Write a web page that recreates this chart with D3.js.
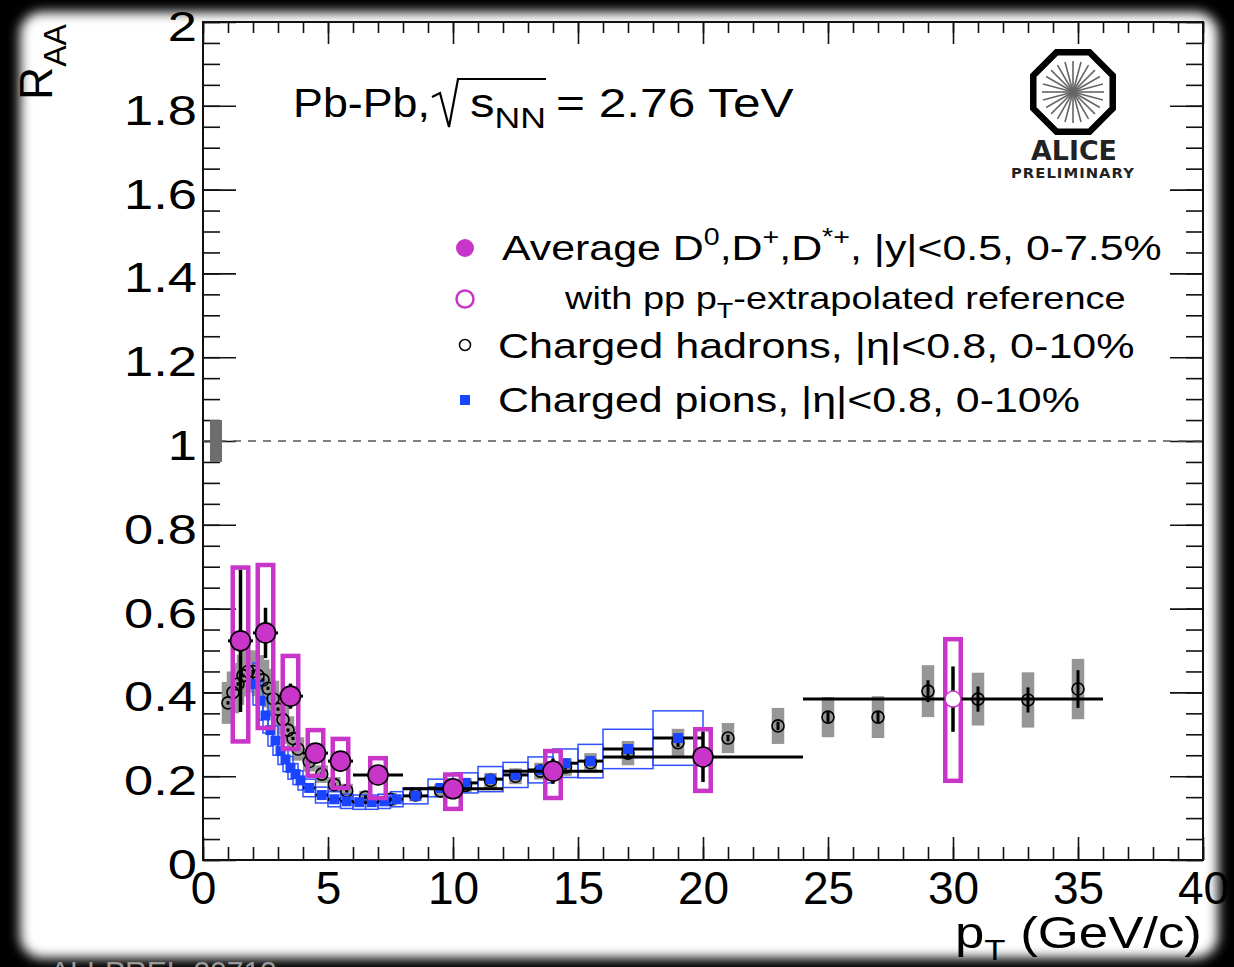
<!DOCTYPE html>
<html>
<head>
<meta charset="utf-8">
<script src="https://cdn.jsdelivr.net/npm/d3@7"></script>
<style>
  html, body { margin: 0; padding: 0; background: #000; }
  svg { display: block; font-family: "Liberation Sans", Arial, Helvetica, sans-serif; }
</style>
</head>
<body>
<svg id="chart" width="1234" height="967"></svg>
<script>
// D mesons (average D0, D+, D*+), bins in pT
var dX = [1.5, 2.5, 3.5, 4.5, 5.5, 7, 10, 14, 20];
var dLo = [1, 2, 3, 4, 5, 6, 8, 12, 16];
var dHi = [2, 3, 4, 5, 6, 8, 12, 16, 24];
var dY = [0.523, 0.542, 0.391, 0.255, 0.236, 0.203, 0.17, 0.212, 0.246];
var dStat = [0.17, 0.06, 0.03, 0.02, 0.02, 0.015, 0.015, 0.03, 0.06];
var dSysUp = [0.175, 0.162, 0.096, 0.055, 0.053, 0.04, 0.034, 0.048, 0.066];
var dSysDn = [0.24, 0.227, 0.126, 0.054, 0.064, 0.055, 0.048, 0.064, 0.081];

// D mesons with pT-extrapolated pp reference
var eX = [30];
var eLo = [24];
var eHi = [36];
var eY = [0.384];
var eStat = [0.078];
var eSysUp = [0.143];
var eSysDn = [0.195];

// charged hadrons
var hX = [1.0, 1.2, 1.4, 1.6, 1.8, 2.0, 2.2, 2.4, 2.6, 2.8, 3.0, 3.2, 3.4, 3.6, 3.8, 4.25, 4.75, 5.25, 5.75, 6.5, 7.5,
          8.5, 9.5, 10.5, 11.5, 12.5, 13.5, 14.5, 15.5, 17, 19, 21, 23, 25, 27, 29, 31, 33, 35];
var hY = [0.375, 0.40, 0.42, 0.44, 0.45, 0.45, 0.44, 0.43, 0.41, 0.385, 0.36, 0.335, 0.31, 0.29, 0.265, 0.235, 0.205,
          0.18, 0.165, 0.15, 0.145, 0.155, 0.165, 0.178, 0.19, 0.20, 0.212, 0.222, 0.232, 0.255, 0.28,
          0.291, 0.320, 0.341, 0.341, 0.403, 0.384, 0.382, 0.408];
var hStat = [0.004, 0.004, 0.004, 0.004, 0.004, 0.004, 0.004, 0.004, 0.004, 0.004, 0.004, 0.004, 0.004, 0.004, 0.004,
             0.004, 0.004, 0.004, 0.004, 0.004, 0.004, 0.004, 0.004, 0.005, 0.005, 0.005, 0.006, 0.006, 0.007,
             0.008, 0.01, 0.008, 0.01, 0.012, 0.015, 0.026, 0.03, 0.03, 0.045];
var hSys = [0.05, 0.05, 0.05, 0.05, 0.05, 0.05, 0.049, 0.048, 0.046, 0.043, 0.04, 0.036, 0.033, 0.03, 0.028, 0.024,
            0.021, 0.018, 0.017, 0.015, 0.015, 0.015, 0.016, 0.017, 0.018, 0.019, 0.02, 0.021, 0.023, 0.029,
            0.033, 0.036, 0.043, 0.048, 0.05, 0.062, 0.063, 0.066, 0.072];

// charged pions
var pX = [2.1, 2.3, 2.5, 2.7, 2.9, 3.1, 3.3, 3.5, 3.7, 3.9, 4.25, 4.75, 5.25, 5.75, 6.25, 6.75, 7.25, 7.75,
          8.5, 9.5, 10.5, 11.5, 12.5, 13.5, 14.5, 15.5, 17, 19];
var pHalf = [0.1, 0.1, 0.1, 0.1, 0.1, 0.1, 0.1, 0.1, 0.1, 0.1, 0.25, 0.25, 0.25, 0.25, 0.25, 0.25, 0.25, 0.25,
             0.5, 0.5, 0.5, 0.5, 0.5, 0.5, 0.5, 0.5, 1, 1];
var pY = [0.42, 0.38, 0.345, 0.31, 0.285, 0.26, 0.24, 0.22, 0.205, 0.19, 0.172, 0.155, 0.145, 0.14, 0.138, 0.138,
          0.14, 0.145, 0.153, 0.172, 0.184, 0.193, 0.203, 0.215, 0.231, 0.236, 0.265, 0.291];
var pSys = [0.05, 0.046, 0.042, 0.038, 0.035, 0.032, 0.029, 0.027, 0.025, 0.023, 0.021, 0.019, 0.018, 0.017, 0.017,
            0.017, 0.017, 0.018, 0.019, 0.021, 0.024, 0.03, 0.03, 0.031, 0.034, 0.04, 0.047, 0.065];

// normalisation uncertainty at RAA = 1
var normY = [1];
var normErr = [0.05];

var xTicks = [0, 5, 10, 15, 20, 25, 30, 35, 40];
var yTicks = [0, 0.2, 0.4, 0.6, 0.8, 1, 1.2, 1.4, 1.6, 1.8, 2];

var magenta = "#c934c9", blue = "#1a44ff";

var svg = d3.select("svg");

// black card with soft white page
var defs = svg.append("defs");
defs.append("filter").attr("id", "soft").attr("x", "-5%").attr("y", "-5%").attr("width", "110%").attr("height", "110%")
  .append("feGaussianBlur").attr("stdDeviation", 6);
svg.append("rect").attr("width", 1234).attr("height", 967).attr("fill", "#000");
svg.append("rect").attr("x", 20).attr("y", 12).attr("width", 1198).attr("height", 946)
  .attr("rx", 22).attr("fill", "#fff").attr("filter", "url(#soft)");

var x = d3.scaleLinear().domain([0, 40]).range([203, 1203]);
var y = d3.scaleLinear().domain([0, 2]).range([860, 22]);

var g = svg.append("g");

// axes, ticks pointing inwards on all four sides
function minor(step, lo, hi) {
  return d3.range(lo, hi + 1e-9, step).map(function(v) { return +v.toFixed(3); });
}
g.append("g").attr("transform", "translate(0,860)")
  .call(d3.axisBottom(x).tickValues(minor(1, 0, 40)).tickSize(-13).tickFormat(""));
g.append("g").attr("transform", "translate(0,860)").attr("class", "xmaj")
  .call(d3.axisBottom(x).tickValues(xTicks).tickSize(-23).tickPadding(8).tickFormat(d3.format("d")));
g.append("g").attr("transform", "translate(0,22)")
  .call(d3.axisTop(x).tickValues(minor(1, 0, 40)).tickSize(-11).tickFormat(""));
g.append("g").attr("transform", "translate(0,22)")
  .call(d3.axisTop(x).tickValues(xTicks).tickSize(-22).tickFormat(""));
g.append("g").attr("transform", "translate(203,0)")
  .call(d3.axisLeft(y).tickValues(minor(0.05, 0, 2)).tickSize(-17).tickFormat(""));
g.append("g").attr("transform", "translate(203,0)").attr("class", "ymaj")
  .call(d3.axisLeft(y).tickValues(yTicks).tickSize(-33).tickPadding(6).tickFormat(d3.format("~g")));
g.append("g").attr("transform", "translate(1203,0)")
  .call(d3.axisRight(y).tickValues(minor(0.05, 0, 2)).tickSize(-17).tickFormat(""));
g.append("g").attr("transform", "translate(1203,0)")
  .call(d3.axisRight(y).tickValues(yTicks).tickSize(-33).tickFormat(""));

g.selectAll(".domain").remove();
g.selectAll(".tick line").attr("stroke", "#111").attr("stroke-width", 1.6);
g.selectAll(".xmaj text").attr("font-size", 46).attr("fill", "#000")
  .attr("font-family", "'Liberation Sans', Arial, sans-serif").attr("dy", "0.78em");
// y labels in the reference are drawn a bit wider than the plain font
g.selectAll(".ymaj text").attr("font-size", 43).attr("fill", "#000")
  .attr("font-family", "'Liberation Sans', Arial, sans-serif").attr("dy", "0.36em")
  .attr("transform", "translate(-6,3) scale(1.22,1) translate(6,0)");

svg.append("rect").attr("x", 203).attr("y", 22).attr("width", 1000).attr("height", 838)
  .attr("fill", "none").attr("stroke", "#111").attr("stroke-width", 2);

// reference line at 1 and normalisation box
svg.append("line").attr("x1", x(0)).attr("x2", x(40)).attr("y1", y(1)).attr("y2", y(1))
  .attr("stroke", "#555").attr("stroke-width", 1.6).attr("stroke-dasharray", "8,7");
svg.selectAll(".norm").data(normY).enter().append("rect")
  .attr("x", x(0.28)).attr("width", x(0.76) - x(0.28))
  .attr("y", function(d, i) { return y(d + normErr[i]); })
  .attr("height", function(d, i) { return y(d - normErr[i]) - y(d + normErr[i]); })
  .attr("fill", "#6e6e6e");

var plot = svg.append("g");

// charged hadron systematics (grey)
plot.selectAll(".hsys").data(hX).enter().append("rect")
  .attr("x", function(d) { return x(d - 0.25); })
  .attr("width", x(0.5) - x(0))
  .attr("y", function(d, i) { return y(hY[i] + hSys[i]); })
  .attr("height", function(d, i) { return y(hY[i] - hSys[i]) - y(hY[i] + hSys[i]); })
  .attr("fill", "#969696");

// charged pion systematics (open blue boxes)
plot.selectAll(".psys").data(pX).enter().append("rect")
  .attr("x", function(d, i) { return x(d - pHalf[i]); })
  .attr("width", function(d, i) { return x(d + pHalf[i]) - x(d - pHalf[i]); })
  .attr("y", function(d, i) { return y(pY[i] + pSys[i]); })
  .attr("height", function(d, i) { return y(pY[i] - pSys[i]) - y(pY[i] + pSys[i]); })
  .attr("fill", "none").attr("stroke", "#3050ff").attr("stroke-width", 1.5);

// charged hadrons
plot.selectAll(".hstat").data(hX).enter().append("line")
  .attr("x1", function(d) { return x(d); }).attr("x2", function(d) { return x(d); })
  .attr("y1", function(d, i) { return y(hY[i] + hStat[i]); })
  .attr("y2", function(d, i) { return y(hY[i] - hStat[i]); })
  .attr("stroke", "#000").attr("stroke-width", 3);
plot.selectAll(".hpt").data(hX).enter().append("circle")
  .attr("cx", function(d) { return x(d); })
  .attr("cy", function(d, i) { return y(hY[i]); })
  .attr("r", 6).attr("fill", "none").attr("stroke", "#000").attr("stroke-width", 1.6);

// charged pions
plot.selectAll(".perr").data(pX).enter().append("line")
  .attr("x1", function(d, i) { return x(d - pHalf[i]); })
  .attr("x2", function(d, i) { return x(d + pHalf[i]); })
  .attr("y1", function(d, i) { return y(pY[i]); })
  .attr("y2", function(d, i) { return y(pY[i]); })
  .attr("stroke", "#000").attr("stroke-width", 3);
plot.selectAll(".ppt").data(pX).enter().append("rect")
  .attr("x", function(d) { return x(d) - 5; })
  .attr("y", function(d, i) { return y(pY[i]) - 5; })
  .attr("width", 10).attr("height", 10).attr("fill", blue);

// D meson points
function dmeson(X, Lo, Hi, Y, St, Up, Dn, filled) {
  plot.selectAll(null).data(X).enter().append("rect")
    .attr("x", function(d) { return x(d - 0.31); })
    .attr("width", x(0.62) - x(0))
    .attr("y", function(d, i) { return y(Y[i] + Up[i]); })
    .attr("height", function(d, i) { return y(Y[i] - Dn[i]) - y(Y[i] + Up[i]); })
    .attr("fill", "none").attr("stroke", magenta).attr("stroke-width", 4.5);
  plot.selectAll(null).data(X).enter().append("line")
    .attr("x1", function(d, i) { return x(Lo[i]); }).attr("x2", function(d, i) { return x(Hi[i]); })
    .attr("y1", function(d, i) { return y(Y[i]); }).attr("y2", function(d, i) { return y(Y[i]); })
    .attr("stroke", "#000").attr("stroke-width", 3);
  plot.selectAll(null).data(X).enter().append("line")
    .attr("x1", function(d) { return x(d); }).attr("x2", function(d) { return x(d); })
    .attr("y1", function(d, i) { return y(Y[i] + St[i]); })
    .attr("y2", function(d, i) { return y(Y[i] - St[i]); })
    .attr("stroke", "#000").attr("stroke-width", 3.5);
  plot.selectAll(null).data(X).enter().append("circle")
    .attr("cx", function(d) { return x(d); })
    .attr("cy", function(d, i) { return y(Y[i]); })
    .attr("r", filled ? 10 : 8)
    .attr("fill", filled ? magenta : "#fff")
    .attr("stroke", filled ? "#000" : magenta).attr("stroke-width", filled ? 1.6 : 1.5);
}
dmeson(dX, dLo, dHi, dY, dStat, dSysUp, dSysDn, true);
dmeson(eX, eLo, eHi, eY, eStat, eSysUp, eSysDn, false);

// squeeze/stretch a text horizontally so it spans a given width from x0
function fit(sel, x0, w) {
  var bw = sel.node().getBBox().width;
  sel.attr("transform", "translate(" + x0 + ",0) scale(" + (w / bw) + ",1) translate(" + (-x0) + ",0)");
}

// title
var t1 = svg.append("text").attr("x", 293).attr("y", 117).attr("font-size", 40).text("Pb-Pb,");
fit(t1, 293, 137);
svg.append("path").attr("d", "M432,97 L440,93 L449,127 L458,79 L546,79")
  .attr("fill", "none").attr("stroke", "#000").attr("stroke-width", 2.2);
var t2 = svg.append("text").attr("x", 470).attr("y", 117).attr("font-size", 40);
t2.append("tspan").text("s");
t2.append("tspan").attr("font-size", 29).attr("dy", 11).text("NN");
fit(t2, 470, 76);
var t3 = svg.append("text").attr("x", 556).attr("y", 117).attr("font-size", 40).text("= 2.76 TeV");
fit(t3, 556, 238);

// legend
var leg = svg.append("g");
leg.append("circle").attr("cx", 465).attr("cy", 248).attr("r", 9).attr("fill", magenta);
leg.append("circle").attr("cx", 465).attr("cy", 299).attr("r", 8.5).attr("fill", "none")
  .attr("stroke", magenta).attr("stroke-width", 2.5);
leg.append("circle").attr("cx", 465).attr("cy", 345).attr("r", 5.5).attr("fill", "none")
  .attr("stroke", "#000").attr("stroke-width", 1.5);
leg.append("rect").attr("x", 460).attr("y", 395).attr("width", 10).attr("height", 10).attr("fill", blue);

var l1 = leg.append("text").attr("x", 502).attr("y", 260).attr("font-size", 36);
l1.append("tspan").text("Average D");
l1.append("tspan").attr("font-size", 24).attr("dy", -15).text("0");
l1.append("tspan").attr("dy", 15).text(",D");
l1.append("tspan").attr("font-size", 24).attr("dy", -15).text("+");
l1.append("tspan").attr("dy", 15).text(",D");
l1.append("tspan").attr("font-size", 24).attr("dy", -15).text("*+");
l1.append("tspan").attr("dy", 15).text(", |y|<0.5, 0-7.5%");
fit(l1, 502, 660);

var l2 = leg.append("text").attr("x", 565).attr("y", 309).attr("font-size", 31);
l2.append("tspan").text("with pp p");
l2.append("tspan").attr("font-size", 22).attr("dy", 9).text("T");
l2.append("tspan").attr("dy", -9).text("-extrapolated reference");
fit(l2, 565, 562);

var l3 = leg.append("text").attr("x", 498).attr("y", 358).attr("font-size", 36)
  .text("Charged hadrons, |\u03b7|<0.8, 0-10%");
fit(l3, 498, 637);
var l4 = leg.append("text").attr("x", 498).attr("y", 412).attr("font-size", 36)
  .text("Charged pions, |\u03b7|<0.8, 0-10%");
fit(l4, 498, 582);

// axis titles
var yt = svg.append("text").attr("transform", "translate(52,100) rotate(-90)").attr("font-size", 46);
yt.append("tspan").text("R");
yt.append("tspan").attr("font-size", 32).attr("dy", 14).text("AA");

var xt = svg.append("text").attr("x", 955).attr("y", 948).attr("font-size", 44);
xt.append("tspan").text("p");
xt.append("tspan").attr("font-size", 29).attr("dy", 12).text("T");
xt.append("tspan").attr("dy", -12).text(" (GeV/c)");
fit(xt, 955, 247);

// ALICE logo
var logo = svg.append("g").attr("transform", "translate(1073,92)");
var oct = d3.range(8).map(function(k) {
  var a = Math.PI / 8 + k * Math.PI / 4;
  return [43 * Math.cos(a), 43 * Math.sin(a)];
});
logo.append("path").attr("d", "M" + oct.join("L") + "Z").attr("fill", "none")
  .attr("stroke", "#000").attr("stroke-width", 6.5).attr("stroke-linejoin", "miter");
logo.selectAll("line").data(d3.range(24)).enter().append("line")
  .attr("x1", 0).attr("y1", 0)
  .attr("x2", function(k) { return 31 * Math.cos(k * Math.PI / 12); })
  .attr("y2", function(k) { return 31 * Math.sin(k * Math.PI / 12); })
  .attr("stroke", "#666").attr("stroke-width", 1.6);
var a1 = svg.append("text").attr("x", 1031).attr("y", 160).attr("font-size", 27)
  .attr("font-family", "'DejaVu Sans', sans-serif").attr("font-weight", "bold").attr("fill", "#222").text("ALICE");
fit(a1, 1031, 86);
var a2 = svg.append("text").attr("x", 1011).attr("y", 178).attr("font-size", 14)
  .attr("font-family", "'DejaVu Sans', sans-serif").attr("font-weight", "bold").attr("fill", "#222")
  .attr("letter-spacing", 1).text("PRELIMINARY");
fit(a2, 1011, 124);

// figure id, mostly cut off at the bottom
svg.append("text").attr("x", 50).attr("y", 982).attr("font-size", 30).attr("fill", "#9a9a9a")
  .text("ALI-PREL-20712");
</script>
</body>
</html>
